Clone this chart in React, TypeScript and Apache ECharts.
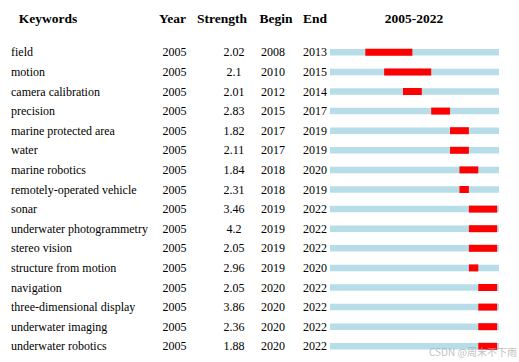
import React, { useEffect, useRef } from "react";
import * as echarts from "echarts";

const keywords = [
  "field",
  "motion",
  "camera calibration",
  "precision",
  "marine protected area",
  "water",
  "marine robotics",
  "remotely-operated vehicle",
  "sonar",
  "underwater photogrammetry",
  "stereo vision",
  "structure from motion",
  "navigation",
  "three-dimensional display",
  "underwater imaging",
  "underwater robotics",
];
const years = [2005, 2005, 2005, 2005, 2005, 2005, 2005, 2005, 2005, 2005, 2005, 2005, 2005, 2005, 2005, 2005];
const strengths = [2.02, 2.1, 2.01, 2.83, 1.82, 2.11, 1.84, 2.31, 3.46, 4.2, 2.05, 2.96, 2.05, 3.86, 2.36, 1.88];
const begins = [2008, 2010, 2012, 2015, 2017, 2017, 2018, 2018, 2019, 2019, 2019, 2019, 2020, 2020, 2020, 2020];
const ends = [2013, 2015, 2014, 2017, 2019, 2019, 2020, 2019, 2022, 2022, 2022, 2020, 2022, 2022, 2022, 2022];
const headers = ["Keywords", "Year", "Strength", "Begin", "End", "2005-2022"];
const rangeStart = 2004.25;
const rangeEnd = 2022.2;

const SERIF = "'Liberation Serif', 'Times New Roman', serif";

export default function App() {
  const ref = useRef<HTMLDivElement>(null);
  useEffect(() => {
    document.body.style.margin = "0";
    const chart = echarts.init(ref.current!, undefined, { renderer: "svg" });
    const cat = keywords.map((_, i) => i);
    const mkAxis = (labels: (string | number)[], align: string, margin: number) => ({
      type: "category",
      data: cat,
      inverse: true,
      gridIndex: 0,
      position: "left",
      axisLine: { show: false },
      axisTick: { show: false },
      splitLine: { show: false },
      axisLabel: {
        interval: 0,
        align,
        margin,
        color: "#000",
        fontFamily: SERIF,
        fontSize: 12,
        formatter: (v: any) => String(labels[Number(v)]),
      },
    });
    const headerX = [48, 172.5, 222, 276, 315, 414];
    chart.setOption({
      animation: false,
      backgroundColor: "#fff",
      grid: { left: 330, right: 20, top: 42.5, height: 313.6 },
      xAxis: { type: "value", min: rangeStart, max: rangeEnd, show: false },
      yAxis: [
        mkAxis(keywords, "left", 319),
        mkAxis(years, "center", 155.5),
        mkAxis(strengths, "center", 96),
        mkAxis(begins, "center", 57),
        mkAxis(ends, "center", 15),
      ],
      graphic: [
        ...headers.map((h, i) => ({
          type: "text",
          x: headerX[i],
          y: 18,
          style: {
            text: h,
            fill: "#000",
            font: `bold 13.5px ${SERIF}`,
            textAlign: "center",
            textVerticalAlign: "middle",
          },
        })),
        {
          type: "text",
          x: 429,
          y: 351,
          z: 100,
          style: {
            text: "CSDN @周末不下雨",
            fill: "rgba(170,170,170,0.75)",
            font: "10px 'Noto Sans CJK SC', sans-serif",
            textAlign: "left",
            textVerticalAlign: "middle",
          },
        },
      ],
      series: [
        {
          type: "custom",
          coordinateSystem: "cartesian2d",
          xAxisIndex: 0,
          yAxisIndex: 0,
          encode: { x: [0, 1], y: 2 },
          data: keywords.map((_, i) => [begins[i], ends[i], i]),
          renderItem: (params: any, api: any) => {
            const idx = api.value(2);
            const b = api.value(0);
            const e = api.value(1);
            const p0 = api.coord([rangeStart, idx]);
            const p1 = api.coord([rangeEnd, idx]);
            const pb = api.coord([b, idx]);
            const pe = api.coord([e, idx]);
            const y = p0[1];
            return {
              type: "group",
              children: [
                {
                  type: "rect",
                  shape: { x: p0[0], y: y - 3.25, width: p1[0] - p0[0], height: 6.5 },
                  style: { fill: "#B7DDE8" },
                },
                {
                  type: "rect",
                  shape: { x: pb[0], y: y - 3.5, width: pe[0] - pb[0], height: 7 },
                  style: { fill: "#FF0000" },
                },
              ],
            };
          },
        },
      ],
    });
    return () => chart.dispose();
  }, []);
  return <div ref={ref} style={{ position: "fixed", left: 0, top: 0, width: 519, height: 362 }} />;
}
